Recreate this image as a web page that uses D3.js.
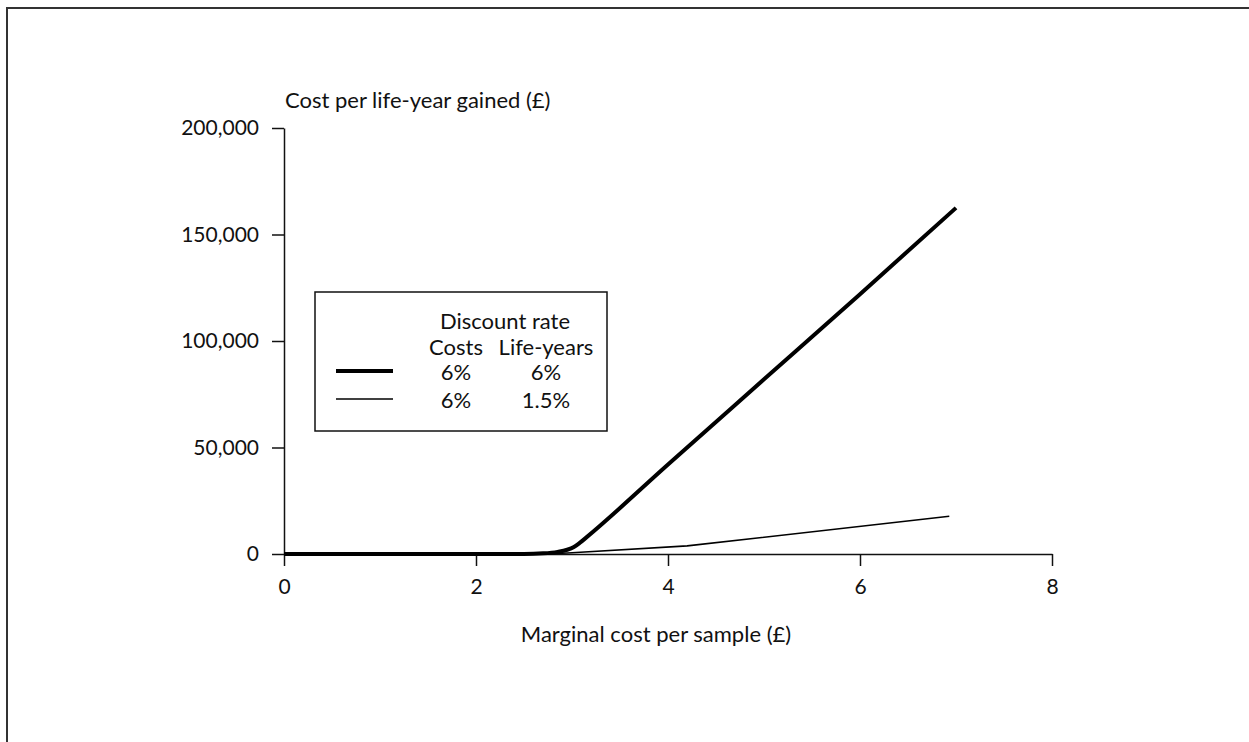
<!DOCTYPE html>
<html lang="en">
<head>
<meta charset="UTF-8">
<title>Cost per life-year gained</title>
<script src="https://d3js.org/d3.v7.min.js"></script>
<style>
  body { margin: 0; background: #fff; }
  text { font-family: Lato, 'Open Sans', sans-serif; font-size: 22px; fill: #111; }
  .axis path, .axis line { stroke: #111; stroke-width: 1.5px; }
</style>
</head>
<body>
<svg width="1249" height="742"></svg>
<script>
// values
const xTicks = [0, 2, 4, 6, 8];
const yTicks = [0, 50000, 100000, 150000, 200000];

// discount 6% costs, 6% life-years
const thickX = [0, 2.5, 2.7, 2.85, 2.95, 3.02, 3.08, 3.15, 4, 5, 6, 7.0];
const thickY = [0, 0, 300, 1000, 2000, 3300, 5200, 7800, 42000, 82000, 122000, 162500];
// discount 6% costs, 1.5% life-years
const thinX = [0, 2.6, 2.8, 3.0, 4.2, 6.93];
const thinY = [0, 0, 150, 600, 3800, 17700];

const legendRows = [["6%", "6%"], ["6%", "1.5%"]];

const svg = d3.select("svg");

// outer frame (only top + left visible)
svg.append("rect")
  .attr("x", 7).attr("y", 8).attr("width", 1300).attr("height", 800)
  .attr("fill", "none").attr("stroke", "#333").attr("stroke-width", 2);

const x = d3.scaleLinear().domain([0, 8]).range([284, 1052]);
const y = d3.scaleLinear().domain([0, 200000]).range([554, 128]);

svg.append("g").attr("class", "axis")
  .attr("transform", "translate(0,554)")
  .call(d3.axisBottom(x).tickValues(xTicks).tickSize(12).tickSizeOuter(0).tickPadding(13))
  .call(g => g.selectAll("text").style("font-size", "21px").style("font-family", "Lato, sans-serif"));

svg.append("g").attr("class", "axis")
  .attr("transform", "translate(284,0)")
  .call(d3.axisLeft(y).tickValues(yTicks).tickSize(12).tickSizeOuter(0).tickPadding(13)
    .tickFormat(d3.format(",")))
  .call(g => g.selectAll("text").style("font-size", "21px").style("font-family", "Lato, sans-serif"));

svg.append("text").attr("x", 285).attr("y", 108).text("Cost per life-year gained (£)");
svg.append("text").attr("x", 656).attr("y", 642).attr("text-anchor", "middle")
  .text("Marginal cost per sample (£)");

const curved = d3.line().x(d => x(d[0])).y(d => y(d[1])).curve(d3.curveMonotoneX);
const straight = d3.line().x(d => x(d[0])).y(d => y(d[1]));

svg.append("path").datum(d3.zip(thinX, thinY)).attr("d", straight)
  .attr("fill", "none").attr("stroke", "#000").attr("stroke-width", 1.6);
svg.append("path").datum(d3.zip(thickX, thickY)).attr("d", curved)
  .attr("fill", "none").attr("stroke", "#000").attr("stroke-width", 4)
  .attr("stroke-linejoin", "round");

// legend
const lg = svg.append("g");
lg.append("rect").attr("x", 315).attr("y", 292).attr("width", 292).attr("height", 139)
  .attr("fill", "#fff").attr("stroke", "#111").attr("stroke-width", 1.5);
lg.append("text").attr("x", 505).attr("y", 329).attr("text-anchor", "middle").text("Discount rate");
lg.append("text").attr("x", 456).attr("y", 355).attr("text-anchor", "middle").text("Costs");
lg.append("text").attr("x", 546).attr("y", 355).attr("text-anchor", "middle").text("Life-years");
legendRows.forEach((r, i) => {
  const yy = 371 + i * 28;
  lg.append("line").attr("x1", 336).attr("x2", 393).attr("y1", yy).attr("y2", yy)
    .attr("stroke", "#000").attr("stroke-width", i === 0 ? 4 : 1.6);
  lg.append("text").attr("x", 456).attr("y", yy + 9).attr("text-anchor", "middle").text(r[0]);
  lg.append("text").attr("x", 546).attr("y", yy + 9).attr("text-anchor", "middle").text(r[1]);
});
</script>
</body>
</html>
